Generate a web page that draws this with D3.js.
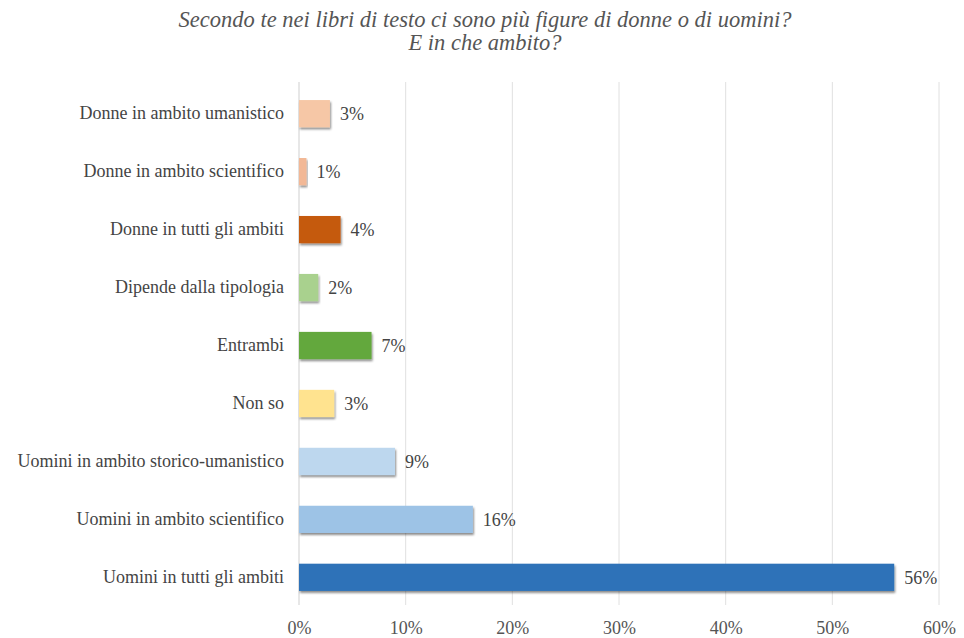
<!DOCTYPE html>
<html>
<head>
<meta charset="utf-8">
<script src="https://cdn.jsdelivr.net/npm/d3@7"></script>
<style>
  body { margin: 0; background: #fff; }
</style>
</head>
<body>
<div id="chart"></div>
<script>
// data
var categories = [
  "Donne in ambito umanistico",
  "Donne in ambito scientifico",
  "Donne in tutti gli ambiti",
  "Dipende dalla tipologia",
  "Entrambi",
  "Non so",
  "Uomini in ambito storico-umanistico",
  "Uomini in ambito scientifico",
  "Uomini in tutti gli ambiti"
];
var values = [2.9, 0.7, 3.9, 1.8, 6.8, 3.3, 9.0, 16.3, 55.8];
var colors = ["#f6c7a6", "#f2b896", "#c55a11", "#a9d18e", "#63a83e", "#ffe38f", "#bdd7ee", "#9dc3e6", "#2e72b8"];
var xTicks = [0, 10, 20, 30, 40, 50, 60];
var titleLines = ["Secondo te nei libri di testo ci sono più figure di donne o di uomini?", "E in che ambito?"];

var W = 964, H = 638;
var margin = {top: 82, right: 25, bottom: 33, left: 299};
var FONT = "'Liberation Serif', 'Times New Roman', serif";

var svg = d3.select("#chart").append("svg")
  .attr("width", W)
  .attr("height", H);

// excel-like bar shadow
var defs = svg.append("defs");
var f = defs.append("filter").attr("id", "shadow")
  .attr("x", "-5%").attr("y", "-20%").attr("width", "115%").attr("height", "160%");
f.append("feDropShadow")
  .attr("dx", 1).attr("dy", 2).attr("stdDeviation", 1.2)
  .attr("flood-color", "#000").attr("flood-opacity", 0.45);

// title
svg.append("g").selectAll("text")
  .data(titleLines)
  .join("text")
  .attr("x", 485)
  .attr("y", (d, i) => 27 + i * 23)
  .attr("text-anchor", "middle")
  .style("font-family", FONT)
  .style("font-style", "italic")
  .style("font-size", "22.5px")
  .style("fill", "#555")
  .text(d => d);

var x = d3.scaleLinear()
  .domain([0, 60])
  .range([margin.left, W - margin.right]);

var y = d3.scaleBand()
  .domain(categories)
  .range([85, 606])
  .paddingInner(0.53)
  .paddingOuter(0.26);

// gridlines
svg.append("g")
  .selectAll("line")
  .data(xTicks)
  .join("line")
  .attr("x1", d => x(d)).attr("x2", d => x(d))
  .attr("y1", margin.top).attr("y2", H - margin.bottom)
  .attr("stroke", d => d === 0 ? "#cfcfcf" : "#e0e0e0")
  .attr("stroke-width", 1);

// x axis labels
var xAxis = svg.append("g")
  .attr("transform", `translate(0, ${H - margin.bottom})`)
  .call(d3.axisBottom(x).tickValues(xTicks).tickFormat(d => d + "%").tickSize(0).tickPadding(16));
xAxis.select(".domain").remove();
xAxis.selectAll("text")
  .style("font-family", FONT)
  .style("font-size", "18px")
  .style("fill", "#555");

// y axis labels
var yAxis = svg.append("g")
  .attr("transform", `translate(${margin.left - 15}, 0)`)
  .call(d3.axisLeft(y).tickSize(0).tickPadding(0));
yAxis.select(".domain").remove();
yAxis.selectAll("text")
  .style("font-family", FONT)
  .style("font-size", "18px")
  .style("fill", "#444");

// bars
svg.append("g")
  .selectAll("rect")
  .data(values)
  .join("rect")
  .attr("x", x(0))
  .attr("y", (d, i) => y(categories[i]))
  .attr("width", d => x(d) - x(0))
  .attr("height", y.bandwidth())
  .attr("fill", (d, i) => colors[i])
  .attr("filter", "url(#shadow)");

// value labels
svg.append("g")
  .selectAll("text")
  .data(values)
  .join("text")
  .attr("x", d => x(d) + 10)
  .attr("y", (d, i) => y(categories[i]) + y.bandwidth() / 2)
  .attr("dy", "0.35em")
  .style("font-family", FONT)
  .style("font-size", "18px")
  .style("fill", "#444")
  .text(d => Math.round(d) + "%");
</script>
</body>
</html>
